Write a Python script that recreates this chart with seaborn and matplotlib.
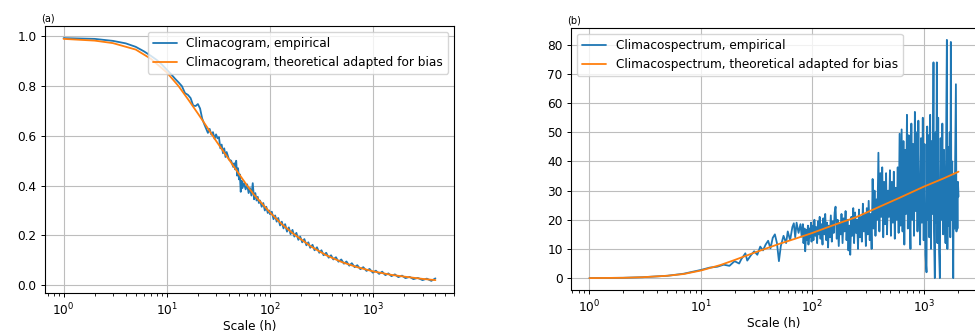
import matplotlib
matplotlib.use("Agg")
import matplotlib.pyplot as plt
import seaborn as sns

# ---------------- data ----------------
# (a) climacogram
clim_theo_k = [1, 2, 3, 5, 7, 10, 13, 16, 20, 25, 30, 40, 50, 60, 70, 100, 130, 170,
               250, 350, 500, 700, 1000, 1500, 2000, 3000, 4000]
clim_theo_v = [0.990, 0.983, 0.973, 0.947, 0.910, 0.855, 0.800, 0.748, 0.690, 0.630,
               0.580, 0.505, 0.447, 0.400, 0.363, 0.292, 0.245, 0.205, 0.155, 0.120,
               0.092, 0.072, 0.055, 0.041, 0.034, 0.025, 0.020]

clim_emp_k = [1, 2, 3, 4, 5, 6, 7, 8, 9, 10, 11, 12, 13, 14, 15, 16, 17, 18, 19, 20,
              21, 22, 23, 24, 25, 26, 27, 28, 29, 30, 31, 32, 33, 34, 35, 36, 37, 38,
              40, 42, 44, 45, 46, 47, 48, 49, 50, 51, 52, 53, 54, 56, 58, 60, 62, 64,
              66, 68, 70, 72, 74, 76, 78, 80, 83, 86, 89, 92, 95, 98, 100, 104, 108,
              112, 116, 120, 125, 130, 135, 140, 146, 152, 158, 165, 172, 180, 188,
              196, 205, 215, 225, 235, 245, 258, 270, 285, 300, 315, 330, 350, 370,
              390, 410, 435, 460, 490, 520, 550, 585, 620, 660, 700, 750, 800, 860,
              920, 990, 1060, 1140, 1220, 1310, 1400, 1500, 1620, 1750, 1900, 2050,
              2250, 2450, 2700, 3000, 3300, 3650, 4000]
clim_emp_v = [0.993, 0.990, 0.982, 0.972, 0.958, 0.940, 0.922, 0.905, 0.886, 0.866,
              0.848, 0.830, 0.815, 0.800, 0.772, 0.765, 0.752, 0.722, 0.720, 0.728,
              0.710, 0.670, 0.648, 0.630, 0.612, 0.628, 0.605, 0.615, 0.588, 0.606,
              0.590, 0.595, 0.550, 0.565, 0.530, 0.550, 0.515, 0.535, 0.505, 0.500,
              0.475, 0.490, 0.465, 0.500, 0.440, 0.470, 0.425, 0.445, 0.375, 0.420,
              0.390, 0.410, 0.385, 0.405, 0.370, 0.390, 0.360, 0.410, 0.345, 0.370,
              0.340, 0.355, 0.330, 0.340, 0.315, 0.330, 0.300, 0.315, 0.290, 0.300,
              0.285, 0.295, 0.265, 0.280, 0.255, 0.270, 0.240, 0.255, 0.228, 0.245,
              0.215, 0.232, 0.205, 0.222, 0.195, 0.210, 0.182, 0.195, 0.172, 0.185,
              0.160, 0.172, 0.150, 0.162, 0.140, 0.152, 0.130, 0.140, 0.120, 0.130,
              0.110, 0.120, 0.103, 0.112, 0.094, 0.103, 0.086, 0.095, 0.078, 0.088,
              0.072, 0.080, 0.064, 0.072, 0.057, 0.065, 0.050, 0.058, 0.045, 0.054,
              0.040, 0.047, 0.036, 0.043, 0.032, 0.038, 0.028, 0.033, 0.024, 0.029,
              0.020, 0.026, 0.017, 0.027]

# (b) climacospectrum
spec_theo_k = [1, 2, 3, 5, 7, 10, 15, 20, 30, 50, 70, 100, 150, 250, 400, 600,
               1000, 1500, 2040]
spec_theo_v = [0.0, 0.1, 0.3, 0.8, 1.4, 2.6, 4.5, 6.2, 8.7, 11.7, 13.5, 15.5, 18.0,
               21.0, 24.5, 27.5, 31.4, 34.2, 36.5]

spec_emp_k = [1, 2, 3, 5, 7, 10, 12, 14, 16, 18, 20, 22, 23, 25, 26, 28, 30, 32, 34,
              36, 38, 40, 42, 44, 46, 48, 50, 52, 55, 58, 60, 63, 66, 68, 70, 72, 75,
              78,
              80, 82, 83, 85, 86, 88, 89, 91, 92, 94, 95, 97, 98, 100, 102, 104, 106,
              108, 110, 112, 114, 116, 118, 120, 123, 125, 128, 130, 133, 135, 138,
              140, 143, 146, 149, 152, 155, 158, 161, 165, 168, 172, 175, 179, 182,
              186, 190, 194, 198, 202, 206, 210, 214, 218, 223, 227, 232, 236, 241,
              246, 251, 256, 261, 266, 272, 277, 283, 289, 295, 301, 307, 313, 319,
              326, 332, 339, 346, 353, 360, 367, 375, 382, 390, 398, 406, 414, 422,
              431, 439, 448, 457, 466, 476, 485, 495, 505, 515, 526, 536, 547, 558,
              569, 581, 592, 604, 616,
              630, 642, 654, 666, 678, 690, 703, 716, 729, 742, 756, 770, 784, 798,
              813, 828, 843, 858, 874, 890, 906, 923, 940, 957, 975, 993, 1011, 1030,
              1053, 1068, 1085, 1100, 1115, 1135, 1155, 1175, 1196, 1216, 1228, 1250,
              1265, 1285, 1303, 1318, 1340, 1365, 1387, 1410, 1435, 1460, 1485, 1510,
              1535, 1560, 1585, 1603, 1620, 1645, 1670, 1700, 1720, 1740, 1760, 1790,
              1810, 1828, 1850, 1875, 1900, 1932, 1955, 1975, 1995, 2015, 2040]
spec_emp_v = [0.0, 0.1, 0.3, 0.8, 1.5, 2.8, 3.6, 3.9, 4.6, 4.2, 5.8, 5.0, 6.5, 8.5,
              6.0, 7.8, 9.2, 8.0, 10.8, 9.5, 11.5, 12.8, 10.2, 13.8, 15.0, 12.0, 5.8,
              11.0, 14.5, 12.0, 16.0, 13.0, 17.5, 18.8, 14.0, 19.0, 15.5, 18.5,
              14.2, 18.5, 12.0, 17.0, 9.2, 16.5, 13.0, 18.0, 11.5, 17.0, 14.0, 19.0,
              12.5, 18.0, 13.0, 20.0, 14.5, 17.5, 12.0, 19.5, 15.0, 21.0, 13.5, 18.5,
              11.5, 20.5, 15.0, 22.0, 13.0, 19.0, 10.5, 18.0, 14.0, 21.5, 12.5, 19.5,
              15.5, 22.5, 24.5, 13.5, 20.0, 11.0, 19.0, 15.0, 22.0, 12.0, 20.5, 16.0,
              23.0, 13.0, 20.0, 9.5, 18.0, 8.0, 21.0, 14.5, 24.0, 12.0, 22.5, 15.5,
              20.0, 10.0, 23.5, 14.0, 21.0, 12.5, 25.5, 16.0, 22.0, 11.0, 24.0, 15.0,
              26.5, 13.0, 22.0, 10.0, 34.0, 17.0, 30.0, 14.5, 27.0, 20.0, 43.0, 16.0,
              36.0, 21.0, 38.0, 14.0, 33.0, 18.5, 36.0, 15.0, 30.0, 21.0, 37.0, 14.5,
              33.0, 19.0, 36.5, 13.5, 31.0, 20.0, 38.0, 15.5, 49.5, 18.0,
              51.0, 16.0, 47.0, 11.5, 44.0, 22.0, 56.0, 17.0, 49.0, 26.0, 10.0, 53.0,
              20.0, 46.0, 14.5, 57.0, 23.0, 50.0, 16.0, 54.0, 25.0, 11.5, 48.0, 19.0,
              55.0, 13.0, 46.0, 8.0, 2.0, 52.0, 20.0, 49.0, 14.0, 56.0, 10.0, 47.0,
              22.0, 74.0, 16.0, 0.0, 50.0, 19.0, 74.0, 12.0, 55.0, 9.0, 0.0, 48.0,
              20.0, 53.0, 15.0, 44.0, 22.0, 12.0, 57.0, 81.7, 10.0, 45.0, 18.0, 50.0,
              14.0, 81.0, 20.0, 40.0, 24.0, 0.0, 35.0, 17.0, 38.0, 66.5, 16.0, 30.0,
              17.0, 33.0, 28.0]

labels_a = ["Climacogram, empirical", "Climacogram, theoretical adapted for bias"]
labels_b = ["Climacospectrum, empirical", "Climacospectrum, theoretical adapted for bias"]

# ---------------- style ----------------
fs = 8.7
sns.set_theme(style="ticks", palette="tab10", rc={
    "font.size": fs, "axes.labelsize": fs, "xtick.labelsize": fs,
    "ytick.labelsize": fs, "legend.fontsize": fs,
    "axes.grid": True, "grid.color": "#bdbdbd", "grid.linewidth": 0.8,
    "axes.edgecolor": "black", "axes.linewidth": 0.8,
    "xtick.major.size": 3.0, "xtick.minor.size": 1.8, "ytick.major.size": 3.0,
    "xtick.major.width": 0.7, "xtick.minor.width": 0.6, "ytick.major.width": 0.7,
    "xtick.major.pad": 3.0, "ytick.major.pad": 3.0, "axes.labelpad": 1.5,
    "xtick.color": "black", "ytick.color": "black", "text.color": "black",
    "axes.labelcolor": "black", "lines.linewidth": 1.3,
    "legend.frameon": True, "legend.framealpha": 0.8, "legend.edgecolor": "0.8",
})
plt.rcParams["font.family"] = ["DejaVu Sans"]

c0, c1 = sns.color_palette("tab10")[:2]

fig = plt.figure(figsize=(9.75, 3.34), dpi=100)
ax1 = fig.add_axes([45 / 975, 41 / 334, 409 / 975, 267 / 334])
ax2 = fig.add_axes([571 / 975, 44 / 334, 406 / 975, 262 / 334])

sns.lineplot(x=clim_emp_k, y=clim_emp_v, ax=ax1, color=c0, label=labels_a[0],
             estimator=None, sort=False, lw=1.3)
sns.lineplot(x=clim_theo_k, y=clim_theo_v, ax=ax1, color=c1, label=labels_a[1],
             estimator=None, sort=False, lw=1.3)
sns.lineplot(x=spec_emp_k, y=spec_emp_v, ax=ax2, color=c0, label=labels_b[0],
             estimator=None, sort=False, lw=1.3)
sns.lineplot(x=spec_theo_k, y=spec_theo_v, ax=ax2, color=c1, label=labels_b[1],
             estimator=None, sort=False, lw=1.3)

for ax, tag, loc in [(ax1, "(a)", "upper right"), (ax2, "(b)", "upper left")]:
    ax.set_xscale("log")
    ax.set_xlabel("Scale (h)")
    ax.set_ylabel("")
    ax.grid(True, which="major")
    ax.grid(False, which="minor")
    ax.legend(loc=loc, fancybox=True)
    ax.text(-0.009, 1.008, tag, transform=ax.transAxes, ha="left", va="bottom",
            fontsize=7)

ax2.spines["right"].set_visible(False)
ax1.set_yticks([0.0, 0.2, 0.4, 0.6, 0.8, 1.0])
ax2.set_yticks([0, 10, 20, 30, 40, 50, 60, 70, 80])

fig.savefig("out.png", dpi=100)
